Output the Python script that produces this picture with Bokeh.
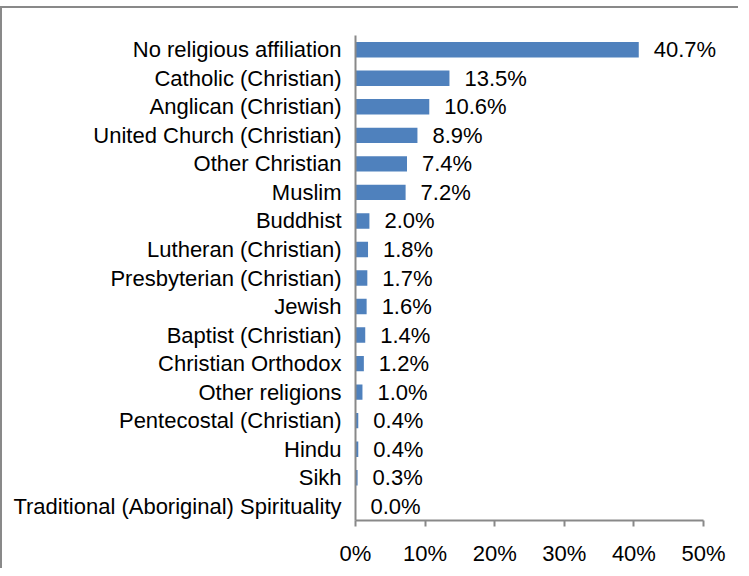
from bokeh.plotting import figure
from bokeh.models import ColumnDataSource, LabelSet, FixedTicker, PrintfTickFormatter, Range1d, FactorRange
from bokeh.core.properties import value
from bokeh.embed import file_html
from bokeh.resources import INLINE

categories = [
    "No religious affiliation",
    "Catholic (Christian)",
    "Anglican (Christian)",
    "United Church (Christian)",
    "Other Christian",
    "Muslim",
    "Buddhist",
    "Lutheran (Christian)",
    "Presbyterian (Christian)",
    "Jewish",
    "Baptist (Christian)",
    "Christian Orthodox",
    "Other religions",
    "Pentecostal (Christian)",
    "Hindu",
    "Sikh",
    "Traditional (Aboriginal) Spirituality",
]
values = [40.7, 13.5, 10.6, 8.9, 7.4, 7.2, 2.0, 1.8, 1.7, 1.6, 1.4, 1.2, 1.0, 0.4, 0.4, 0.3, 0.0]
x_ticks = [0, 10, 20, 30, 40, 50]

FONT = "Liberation Sans"
AXIS_GRAY = "#898989"

source = ColumnDataSource(dict(
    cat=categories,
    val=values,
    lab=[f"{v:.1f}%" for v in values],
))

# frame spans a bit beyond 50% so value labels are not clipped; axis bounded to 0..50
p = figure(
    frame_width=383, frame_height=485,
    y_range=FactorRange(*reversed(categories)),
    x_range=Range1d(0, 55.03),
    output_backend="svg", toolbar_location=None,
    min_border_left=353, min_border_right=0,
    min_border_top=27, min_border_bottom=0,
    margin=(6, 0, 0, 0),
)
p.styles = {"border-top": "2px solid " + AXIS_GRAY, "border-left": "2px solid " + AXIS_GRAY}

p.hbar(y="cat", right="val", left=0, height=0.54, source=source,
       fill_color="#4F81BD", line_color=None)

labels = LabelSet(x="val", y="cat", text="lab", source=source,
                  x_offset=15, text_baseline="middle", text_align="left",
                  text_font=value(FONT), text_font_size=value("22px"),
                  text_color="#000000")
p.add_layout(labels)

p.grid.visible = False
p.outline_line_color = None
p.background_fill_color = "white"
p.border_fill_color = "white"

xa = p.xaxis[0]
xa.bounds = (0, 50)
xa.ticker = FixedTicker(ticks=x_ticks)
xa.formatter = PrintfTickFormatter(format="%d%%")
xa.axis_line_color = AXIS_GRAY
xa.axis_line_width = 2
xa.major_tick_line_color = AXIS_GRAY
xa.major_tick_line_width = 2
xa.major_tick_in = 0
xa.major_tick_out = 6
xa.minor_tick_line_color = None
xa.major_label_text_font = FONT
xa.major_label_text_font_size = "22px"
xa.major_label_text_color = "#000000"
xa.major_label_standoff = 14

ya = p.yaxis[0]
ya.axis_line_color = AXIS_GRAY
ya.axis_line_width = 2
ya.major_tick_line_color = None
ya.minor_tick_line_color = None
ya.major_label_text_font = FONT
ya.major_label_text_font_size = "22px"
ya.major_label_text_color = "#000000"
ya.major_label_standoff = 8

open("out.html", "w").write(file_html(p, INLINE))
